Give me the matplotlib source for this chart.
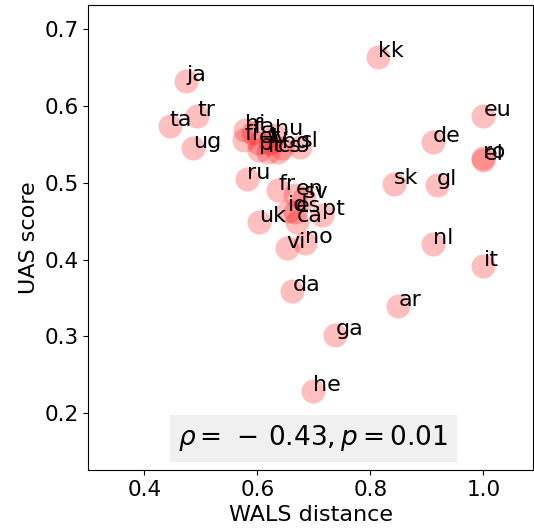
import matplotlib

matplotlib.use("Agg")
import matplotlib.pyplot as plt

# language codes, WALS distance, UAS score
langs = [
    "kk", "eu", "de", "ro", "el", "sk", "gl", "nl", "it", "ar",
    "ja", "tr", "ta", "ug",
    "hi", "fa", "fi", "et", "lv", "hu", "pl", "lt", "cs", "bg", "sl",
    "ru", "fr", "en", "sv", "id", "es", "ca", "pt", "uk", "vi", "no",
    "da", "ga", "he",
]
wals = [
    0.813, 1.000, 0.911, 1.000, 1.000, 0.842, 0.918, 0.910, 1.000, 0.849,
    0.474, 0.494, 0.445, 0.486,
    0.578, 0.593, 0.577, 0.602, 0.622, 0.631, 0.602, 0.619, 0.636, 0.644, 0.676,
    0.582, 0.637, 0.667, 0.683, 0.654, 0.667, 0.670, 0.714, 0.603, 0.652, 0.684,
    0.662, 0.738, 0.698,
]
uas = [
    0.664, 0.587, 0.553, 0.532, 0.530, 0.499, 0.497, 0.421, 0.392, 0.339,
    0.633, 0.587, 0.574, 0.546,
    0.569, 0.565, 0.556, 0.552, 0.552, 0.562, 0.543, 0.540, 0.540, 0.546, 0.547,
    0.505, 0.491, 0.484, 0.480, 0.463, 0.462, 0.449, 0.458, 0.449, 0.415, 0.422,
    0.359, 0.302, 0.229,
]
rho_text = r"$\rho = \,-\,0.43, p = 0.01$"

fig = plt.figure(figsize=(5.34, 5.29), dpi=100)
ax = fig.add_axes([0.1655, 0.1115, 0.832, 0.879])

ax.scatter(wals, uas, s=300, color="red", alpha=0.25, linewidths=0)
for lang, x, y in zip(langs, wals, uas):
    ax.text(x, y, lang, fontsize=16)

ax.text(0.506, 0.068, rho_text, transform=ax.transAxes, ha="center", va="center",
        fontsize=19, bbox=dict(facecolor="#f0f0f0", edgecolor="none", pad=6))

ax.set_xlim(0.301, 1.087)
ax.set_ylim(0.126, 0.7316)
ax.set_xticks([0.4, 0.6, 0.8, 1.0])
ax.set_yticks([0.2, 0.3, 0.4, 0.5, 0.6, 0.7])
ax.tick_params(labelsize=15.5)
ax.set_xlabel("WALS distance", fontsize=16)
ax.set_ylabel("UAS score", fontsize=16)

fig.savefig("out.png", dpi=100)
